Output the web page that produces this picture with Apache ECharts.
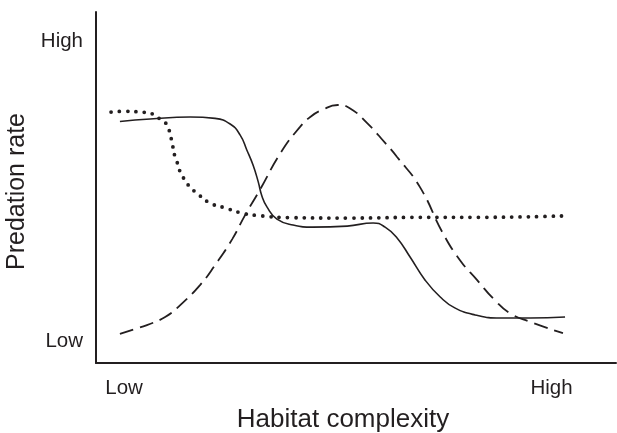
<!DOCTYPE html>
<html>
<head>
<meta charset="utf-8">
<script src="https://cdn.jsdelivr.net/npm/echarts@6/dist/echarts.min.js"></script>
<style>
  html, body { margin: 0; padding: 0; background: #fff; }
  #chart { width: 617px; height: 433px; }
</style>
</head>
<body>
<div id="chart"></div>
<script>
// axis ticks (positions on a 0-100 scale)
var xTickValues = [5.4, 87.6]
var xTickLabels = ['Low', 'High']
var yTickValues = [6.3, 91.7]
var yTickLabels = ['Low', 'High']

// solid curve
var solidX = [4.6, 10.4, 18.1, 22.9, 25.8, 27.7, 29.0, 30.2, 31.2, 31.9, 32.9, 34.8, 37.9, 41.7, 48.3, 53.3, 55.6, 57.9, 60.4, 63.3, 66.2, 69.0, 72.9, 77.7, 83.5, 90.2]
var solidY = [68.8, 69.5, 70.1, 69.7, 68.1, 65.0, 60.7, 56.4, 51.6, 47.6, 44.4, 41.0, 39.3, 38.7, 39.0, 39.9, 38.7, 35.6, 30.2, 23.6, 18.8, 15.7, 13.7, 12.8, 12.8, 13.1]

// dashed curve
var dashX = [4.6, 7.5, 9.8, 13.3, 16.2, 20.0, 22.9, 26.2, 28.7, 31.5, 35.6, 39.2, 41.2, 43.5, 46.5, 48.8, 52.1, 55.6, 57.9, 62.3, 66.7, 70.0, 73.3, 76.7, 79.6, 83.5, 89.8]
var dashY = [8.3, 9.7, 10.8, 13.1, 16.5, 22.2, 27.9, 35.3, 42.2, 49.3, 60.1, 67.2, 70.1, 72.1, 73.5, 72.6, 68.4, 62.7, 58.7, 50.1, 37.0, 29.3, 23.6, 17.9, 14.2, 11.7, 8.5]

// dotted curve
var dotX = [2.9, 5.6, 8.5, 11.0, 12.3, 13.7, 14.2, 14.6, 15.2, 15.8, 16.2, 17.1, 18.1, 19.4, 21.9, 24.8, 28.1, 31.2, 37.7, 48.8, 62.3, 73.5, 89.8]
var dotY = [71.5, 71.7, 71.5, 70.9, 69.5, 67.8, 65.5, 63.0, 58.7, 56.4, 54.4, 52.1, 50.1, 48.4, 45.6, 44.2, 42.7, 42.0, 41.4, 41.3, 41.5, 41.5, 41.9]

function zip (xs, ys) {
  return xs.map(function (x, i) { return [x, ys[i]] })
}

var ink = '#231f20'
var font = '"Liberation Sans", Arial, sans-serif'

var chart = echarts.init(document.getElementById('chart'))
chart.setOption({
  animation: false,
  grid: { left: 96, right: 1, top: 12, bottom: 70, outerBoundsMode: 'none', containLabel: false },
  xAxis: {
    type: 'value',
    min: 0,
    max: 100,
    name: 'Habitat complexity',
    nameLocation: 'middle',
    nameGap: 44,
    // padding on the right pulls the title a little left of the axis middle
    nameTextStyle: { color: ink, fontSize: 26, fontFamily: font, padding: [0, 26, 0, 0] },
    axisLine: { show: true, lineStyle: { color: ink, width: 2 } },
    axisTick: { show: false },
    splitLine: { show: false },
    axisLabel: {
      customValues: xTickValues,
      formatter: function (v) { return xTickLabels[xTickValues.indexOf(v)] },
      color: ink,
      fontSize: 20.5,
      fontFamily: font,
      margin: 15
    }
  },
  yAxis: {
    type: 'value',
    min: 0,
    max: 100,
    name: 'Predation rate',
    nameLocation: 'middle',
    nameGap: 65,
    nameTextStyle: { color: ink, fontSize: 25, fontFamily: font, padding: [0, 8, 0, 0] },
    axisLine: { show: true, lineStyle: { color: ink, width: 2 } },
    axisTick: { show: false },
    splitLine: { show: false },
    axisLabel: {
      customValues: yTickValues,
      formatter: function (v) { return yTickLabels[yTickValues.indexOf(v)] },
      color: ink,
      fontSize: 20.5,
      fontFamily: font,
      margin: 13
    }
  },
  series: [
    {
      type: 'line',
      data: zip(solidX, solidY),
      smooth: 0.5,
      symbol: 'none',
      lineStyle: { color: ink, width: 1.6 }
    },
    {
      type: 'line',
      data: zip(dashX, dashY),
      smooth: 0.5,
      symbol: 'none',
      lineStyle: { color: ink, width: 1.8, type: [14, 7] }
    },
    {
      type: 'line',
      data: zip(dotX, dotY),
      smooth: 0.5,
      symbol: 'none',
      lineStyle: { color: ink, width: 3.8, type: [0, 8.3], cap: 'round' }
    }
  ]
})
</script>
</body>
</html>
